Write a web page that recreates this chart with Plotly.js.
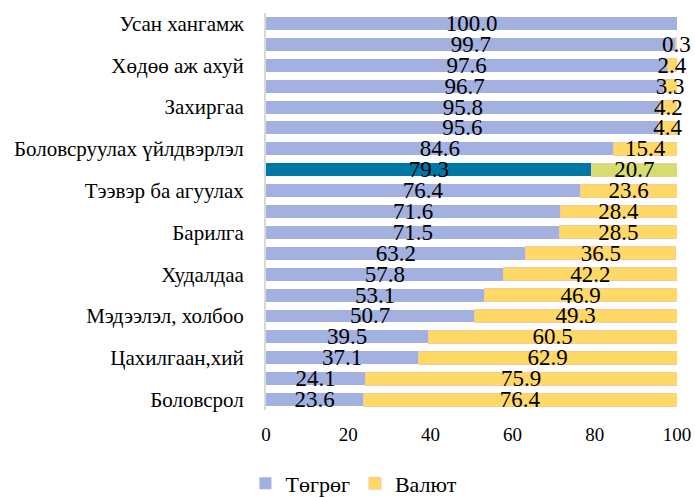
<!DOCTYPE html>
<html>
<head>
<meta charset="utf-8">
<script src="https://cdn.plot.ly/plotly-3.0.1.min.js"></script>
<style>html,body{margin:0;padding:0;background:#fff}#chart{width:695px;height:497px}</style>
</head>
<body>
<div id="chart"></div>
<script>
// Sector labels (only every other row is labelled in the original)
const sectors = ["Усан хангамж", "", "Хөдөө аж ахуй", "", "Захиргаа", "",
  "Боловсруулах үйлдвэрлэл", "", "Тээвэр ба агуулах", "", "Барилга", "",
  "Худалдаа", "", "Мэдээлэл, холбоо", "", "Цахилгаан,хий", "", "Боловсрол"];
const togrog = [100.0, 99.7, 97.6, 96.7, 95.8, 95.6, 84.6, 79.3, 76.4, 71.6,
  71.5, 63.2, 57.8, 53.1, 50.7, 39.5, 37.1, 24.1, 23.6];
const valyut = [0.0, 0.3, 2.4, 3.3, 4.2, 4.4, 15.4, 20.7, 23.6, 28.4,
  28.5, 36.5, 42.2, 46.9, 49.3, 60.5, 62.9, 75.9, 76.4];
const seriesNames = ["Төгрөг", "Валют"];
const highlightIndex = 7;

const FONT = "Liberation Serif, serif";
const pos = sectors.map((_, i) => i);
const tugColors = togrog.map((_, i) => i === highlightIndex ? "#0078A5" : "#A3B1E1");
const valColors = valyut.map((_, i) => i === highlightIndex ? "#D6DC6E" : "#FFD966");
const textFont = {family: FONT, size: 23, color: "#000"};

const traces = [
  {
    type: "bar", orientation: "h", name: seriesNames[0],
    y: pos, x: togrog,
    text: togrog.map(v => v.toFixed(1)),
    textposition: "inside", insidetextanchor: "middle", textangle: 0,
    constraintext: "none", cliponaxis: false,
    textfont: textFont, insidetextfont: textFont,
    marker: {color: tugColors, line: {width: 0}},
    hoverinfo: "none"
  },
  {
    type: "bar", orientation: "h", name: seriesNames[1],
    y: pos, x: valyut,
    text: valyut.map(v => v > 0 ? v.toFixed(1) : ""),
    textposition: "inside", insidetextanchor: "middle", textangle: 0,
    constraintext: "none", cliponaxis: false,
    textfont: textFont, insidetextfont: textFont,
    marker: {color: valColors, line: {color: "#F8C8A0", width: 1}},
    hoverinfo: "none"
  }
];

const layout = {
  width: 695, height: 497,
  margin: {l: 266, r: 18, t: 13, b: 87, autoexpand: false},
  barmode: "stack", bargap: 0.38,
  paper_bgcolor: "#fff", plot_bgcolor: "#fff",
  font: {family: FONT, size: 19, color: "#000"},
  xaxis: {
    range: [0, 100], tickvals: [0, 20, 40, 60, 80, 100],
    showgrid: false, zeroline: false, showline: false,
    ticks: "", ticklabelstandoff: 11, automargin: false,
    tickfont: {family: FONT, size: 19, color: "#000"}
  },
  yaxis: {
    range: [18.5, -0.5], tickvals: pos, ticktext: sectors,
    showgrid: false, zeroline: false, automargin: false,
    showline: true, linecolor: "#D9D9D9", linewidth: 2,
    ticks: "", ticklabelstandoff: 16,
    tickfont: {family: FONT, size: 21, color: "#000"}
  },
  showlegend: true,
  legend: {
    orientation: "h", traceorder: "normal",
    x: -0.05, xanchor: "left", y: -0.185, yanchor: "middle",
    font: {family: FONT, size: 22, color: "#000"}, itemwidth: 30, tracegroupgap: 0,
    bgcolor: "rgba(0,0,0,0)"
  }
};

Plotly.newPlot("chart", traces, layout, {displayModeBar: false});
</script>
</body>
</html>
